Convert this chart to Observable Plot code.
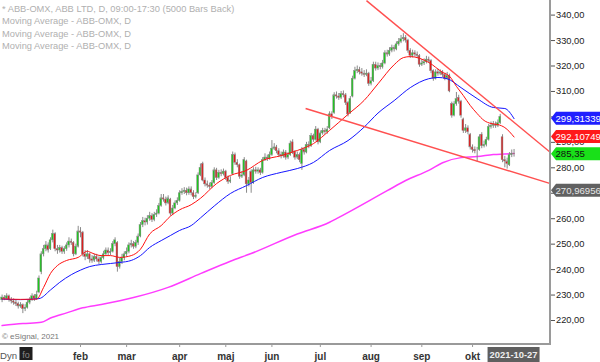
<!DOCTYPE html>
<html><head><meta charset="utf-8">
<script src="https://cdn.jsdelivr.net/npm/d3@7"></script>
<script src="https://cdn.jsdelivr.net/npm/@observablehq/plot@0.6"></script>
<style>html,body{margin:0;padding:0;background:#fff;overflow:hidden}</style>
</head><body><div id="chart"></div><script>
// ---- Data ----
const opens = [228,229,228.5,229.5,228,227.5,227,226.5,225.5,226,
224.5,225,227,228,229.5,228.5,231,239,246,248,
249.5,248,251.5,254,248,247.5,248.5,247,248,249.5,
251,250.5,246,249,255,254.5,246,245,246,244,
243.5,245,244,243,244.5,246,247.5,246.5,247,250,
250.5,241,243,244.5,246,247,249.5,250,249,250.5,
253,257.5,259,258.5,260,261,259.5,261.5,262,265,
268,267.5,266,267.5,262,264,266,267,270,270.5,
271,270,271.5,270,268.5,270,277,281.5,275,273.5,
273,272.5,274,279,276,278,277.5,278.5,276,274.5,
277.5,285,282,281,276.5,277,282.5,273.5,278.5,274,
279,278.5,279,278,283,284,283.5,285,287.5,288,
286.5,285,284.5,286,284,285,290,286,284,285,
281.5,287,286,289,288.5,292.5,291,295,290,293.5,
294.5,294,295.5,301,301.5,308.5,308,307.5,309,308.5,
305.5,301.5,308,315,318,318.5,317.5,317,316.5,317,
313,314,320.5,319,320,319.5,321,325,324.5,326,
327,326.5,328.5,329.5,330.5,331,330,326,324,325,
324.5,324,320.5,321,321.5,322.5,322,318,315,317.5,
317,317.5,316.5,315,316,305,300.5,305,307.5,306,
299,294.5,295.5,293,288,287,286.5,287,293,288.5,
289,291,296,296.5,297,296.5,297.5,292,283,282.5,
281,285,285.5];
const closes = [229,228.5,229.5,228,227.5,227,226.5,225.5,226,224.5,
225,227,228,229.5,228.5,230,236.5,246,248,249.5,
247.5,251.5,254,248,247.5,248.5,247,248,249.5,251,
250.5,246,249,255,254.5,246,245,246,244,243.5,
245,244,243,244.5,246,247.5,246.5,247,250,251.5,
241,243,244.5,246,247,249.5,250,249,250.5,253,
257.5,259,258.5,260,261,259.5,261.5,262,265,268,
267.5,266,268,262,264,266,267,270,270.5,271,
270,271.5,270,268.5,269,277,280,275,273.5,273,
272.5,274,279,276,278,277.5,278.5,276,274.5,275,
285,282,281,276.5,277,283,273.5,275,274,279,
278.5,279,278,283,284,283.5,285,287.5,288,286.5,
285,284.5,286,284,285,289.5,286,284,285,283,
287,286,289,288.5,292.5,291,295,290,293.5,294.5,
294,295,301,300,308.5,308,307.5,309,308.5,305.5,
301,307,315,318,318.5,317.5,317,316.5,317,313,
314,320.5,319,320,319.5,321,325,324.5,326,327,
326.5,328.5,329.5,330.5,331,330,326,324,325,324.5,
324,320.5,321,321.5,322.5,322,318,315,317.5,317,
317.5,316.5,315,316,310,300.5,305,307,306,300.5,
294.5,295.5,294,288,287,286.5,286.5,292,288.5,289,
291,296,296.5,297,296.5,297.5,300,283,282.5,281.5,
285,285.5,285.35];
const highs = [230,229.8,230.5,230,229,228.5,228,227.2,227,226.5,
226.2,227.8,229,230.5,230.2,231.5,237.5,247,249.5,251,
250.5,252.5,255.5,254.5,249.5,249.5,249.2,249,250.5,252.5,
252,251,250,257,256.5,255,247.5,247.5,246.5,245.5,
246,246,245,245.5,247.2,248.5,248.5,248.2,251,252.5,
251,244.5,246,247,248.5,250.5,251.5,251,251.5,254,
258.5,260.5,260.2,261.2,262.5,262,262.5,263.5,266,269.5,
269.5,268.5,269,268,265.2,267,268.2,271,271.8,272.2,
272,272.5,272.5,271,270.2,278,281.5,282.2,276,274.8,
274,275,280,279.8,279,279.2,279.5,279,276.8,276.5,
286.2,285.8,283.2,281.5,278.5,284,283,276.2,279.2,280,
280.2,280,279.8,284,285.5,285,286.2,290.7,289.5,288.8,
287.5,286.2,287,286.8,286,290.5,291,286.8,286.2,285.8,
288,288,290,290.2,293.5,293.2,296.2,295.5,294.5,295.5,
295.5,296.2,302,302,309.5,309.8,309.2,310,310.2,309.2,
306,308,316,319.5,320,319.5,319,318.2,318.5,317.5,
315.5,321.5,321.5,321.2,321,322.2,326,326.2,327.2,328.2,
328,329.5,330.8,332,332.7,332,330.5,326.8,326.2,326,
325.5,324.5,322.5,322.8,323.8,323.5,322.5,318.5,318.5,318.8,
318.5,318.2,317.2,317.5,316.8,305.8,306,309.6,308.5,306.5,
299.5,297,296.5,293.5,289,288.2,288,293,293.8,290.5,
292,297,298,298.2,298,298.8,301,293,284.5,283.8,
286,287,287.2];
const lows = [227,227.8,228,227.2,226.5,226,225.5,224.5,224.8,222.7,
223.5,224.5,226.2,227.5,227.5,228,230.5,238,245,247,
246.5,247.5,250.5,247,246,246.5,246,246,247.2,248.5,
249.5,245,245.5,248.5,252.5,245,243.5,244,242.5,242.5,
242.8,243,242,242.2,243.8,245.5,245.5,245.5,246.5,249,
239,240.2,242,243.5,245,246.2,248.5,248,248.2,249.5,
252.5,256.5,257.2,257.5,259,258.5,258.8,260.5,261.5,264.5,
266.5,265,265.5,261,261.2,263.5,265.2,266.5,269.2,269.5,
269,269.2,269,267.5,267.8,269.5,276.5,274.5,272.5,272,
271.5,271.8,273.5,275,275.5,276.5,276.8,275,273.5,273.8,
277,281,280,275.5,275.8,276.5,270,272.5,270,273.5,
277.5,277.5,277,277.5,282.5,282.5,283,284.5,286.8,285.5,
284,283.5,283.8,283,283.2,284.5,285.2,283,283.2,282,
279,285,285.5,287.5,288,290,290.5,289,289.5,292.8,
293,293.2,295,299,301,307,306.5,306.8,307.5,304.5,
300,301,307.5,314.5,317,316.5,316,315.5,315.8,312,
312.2,313.5,318,318.2,318.5,318.8,320.5,323.5,323.8,325.2,
325.5,326,327.8,328.8,329.5,329,325,323,323.2,323.5,
323,319.5,319.8,320.2,320.8,321,317,314,314.5,316,
316.2,315.5,314.2,314.5,309.5,299.5,300,304.2,305,299.5,
293.5,293.5,293,287,285.8,285.5,282.2,286.5,287.5,287.8,
288.2,290.5,295.2,295.5,295.5,295.8,297,282,280,279.5,
280.5,284,284.2];

// Moving averages (bar index, value)
const redMaIdx = [0,8,15,18,21,24,28,33,37,39,43,47,51,56,60,64,69,73,77,82,86,93,99,106,113,121,128,135,142,150,157,163,170,174,177,185,191,194,197,200,203,206,209,212,215,218,222];
const redMaVal = [228.5,228.3,228.4,233,238.5,241.6,243.6,244.8,247.2,246.5,245.5,245.5,244.8,245.5,248,254,257.3,261,263.5,265.5,268,273.8,277,279,282.9,284.8,286.8,289.5,294.7,301,306.5,313,320.5,323.3,323.7,321.4,317.5,316,312,308.4,304.5,301.3,298.6,297.4,297,295.8,292.107];
const blueMaIdx = [0,8,16,21,25,30,34,38,43,47,51,56,60,64,69,73,77,82,86,92,99,106,113,121,128,135,142,150,157,163,170,177,185,189,193,199,206,213,218,222];
const blueMaVal = [228.4,228.2,228.6,232,235,238,239.8,241.2,242,242.4,242.8,243.6,245.5,248.7,251.4,253.4,255.4,257.3,260.3,265,269.9,273,276.2,278.2,279.7,282.1,286.8,290.7,296,301.5,306.4,311.5,315,315.5,315,311.5,307.2,303.7,303.3,299.313];
const magMaIdx = [0,9,17,21,28,35,43,57,72,86,99,108,128,142,145,167,175,185,191,199,206,213,222];
const magMaVal = [218,218.8,219.3,221,223,225,226.3,229,233,238.4,243.3,246.3,254,258.6,260,271,275,279,282,284,284.4,285.2,285.6];

// Trend lines (bar index / price endpoints)
const trendX1 = [158, 131.6];
const trendY1 = [345.7, 303.3];
const trendX2 = [237.8, 237.8];
const trendY2 = [286.0, 273.8];

// Axis ticks & labels
const yTicks = [220,230,240,250,260,270,280,290,300,310,320,330,340];
const hiddenTicks = [300, 270];   // covered by the value tags in the reference
const monthIdx = [34,54,77,97,117,138,160,182,204];
const monthLabels = ["feb","mar","apr","maj","jun","jul","aug","sep","okt"];
const lastDate = "2021-10-27";
const lastIdx = 222;

// Right-side value tags
const tagValues = [299.31339, 292.10749, 285.35, 270.96956];
const tagTexts = ["299,31339","292,10749","285,35","270,96956"];
const tagFills = ["#1f1fff","#ff1a1a","#19e019","#616161"];
const tagInk = ["#ffffff","#ffffff","#111111","#e6e6e6"];

const legendLines = ["* ABB-OMX, ABB LTD, D, 09:00-17:30 (5000 Bars Back)","Moving Average - ABB-OMX, D","Moving Average - ABB-OMX, D","Moving Average - ABB-OMX, D"];

// ---- Build ----
const bars = closes.map((c,i)=>({i, open: opens[i], high: highs[i], low: lows[i], close: c}));
const toPts = (xs, ys) => xs.map((x,k)=>({x, y: ys[k]}));
const trends = trendX1.map((x,k)=>({x1:x, y1:trendY1[k], x2:trendX2[k], y2:trendY2[k]}));
const FONT = "'Liberation Sans', Arial, Helvetica, sans-serif";

const chart = Plot.plot({
  width: 600, height: 362,
  marginTop: 0, marginRight: 50, marginBottom: 18, marginLeft: 0,
  style: {fontFamily: FONT, background: "#fff", overflow: "visible"},
  x: {domain: [-0.69, 237.8], axis: null},
  y: {domain: [210.57, 345.74], axis: null},
  marks: [
    Plot.axisY(yTicks, {anchor: "right", tickSize: 4, tickPadding: 1.5, fontSize: 9.3, stroke: "#555", fill: "#222",
      tickFormat: d => hiddenTicks.includes(d) ? "" : d.toFixed(2).replace(".", ","), label: null}),
    Plot.axisX(monthIdx, {anchor: "bottom", tickSize: 3, tickPadding: 5, fontSize: 10, fontWeight: "bold",
      stroke: "#999", fill: "#333", tickFormat: d => monthLabels[monthIdx.indexOf(d)], label: null}),
    Plot.line(toPts(magMaIdx, magMaVal), {x: "x", y: "y", stroke: "#ff3cff", strokeWidth: 1.5, curve: "monotone-x"}),
    Plot.ruleX(bars, {x: "i", y1: "low", y2: "high", stroke: "#8a8a8a", strokeWidth: 1}),
    Plot.rect(bars, {x1: d => d.i - 0.38, x2: d => d.i + 0.38, y1: "open", y2: "close",
      fill: d => d.close > d.open ? "#1cc81c" : d.close < d.open ? "#e01818" : "#8a8a8a",
      stroke: "#8a8a8a", strokeWidth: 0.5}),
    Plot.line(toPts(blueMaIdx, blueMaVal), {x: "x", y: "y", stroke: "#1414ff", strokeWidth: 1, curve: "monotone-x"}),
    Plot.line(toPts(redMaIdx, redMaVal), {x: "x", y: "y", stroke: "#ff1010", strokeWidth: 1, curve: "monotone-x"}),
    Plot.link(trends, {x1: "x1", y1: "y1", x2: "x2", y2: "y2", stroke: "#ff5050", strokeWidth: 1.4})
  ]
});
document.getElementById("chart").appendChild(chart);

// ---- Decorations using the plot's scales ----
const svg = d3.select(chart);
const sx = chart.scale("x"), sy = chart.scale("y");
const right = sx.apply(237.8), bottom = sy.apply(210.57);

svg.append("line").attr("x1", right).attr("x2", right).attr("y1", 0).attr("y2", bottom + 1)
  .attr("stroke", "#9a9a9a").attr("stroke-width", 2);
svg.append("line").attr("x1", 0).attr("x2", right + 1).attr("y1", bottom).attr("y2", bottom)
  .attr("stroke", "#9a9a9a").attr("stroke-width", 2);

const addText = (x, y, t, o) => {
  const el = svg.append("text").attr("x", x).attr("y", y)
    .attr("font-family", FONT).attr("text-anchor", o.anchor || "start")
    .attr("font-size", o.size).attr("fill", o.fill).text(t);
  if (o.weight) el.attr("font-weight", o.weight);
  if (o.dy) el.attr("dy", o.dy);
  return el;
};

// value tags
tagValues.forEach((v, k) => {
  const y = sy.apply(v), x0 = right + 1;
  svg.append("path")
    .attr("d", `M${x0},${y} L${x0+5},${y-6.5} L600,${y-6.5} L600,${y+6.5} L${x0+5},${y+6.5} Z`)
    .attr("fill", tagFills[k]);
  addText(x0 + 4.5, y, tagTexts[k], {size: 9.6, fill: tagInk[k], dy: "0.36em"});
});

// last date tag
const dx = sx.apply(lastIdx);
svg.append("rect").attr("x", dx - 26).attr("y", bottom + 3).attr("width", 52).attr("height", 15).attr("fill", "#5f5f5f");
addText(dx, bottom + 10.5, lastDate, {anchor: "middle", size: 9.4, weight: "bold", fill: "#eeeeee", dy: "0.36em"});

// legend lines
legendLines.forEach((t, k) => addText(2, 12 + k * 12.3, t, {size: 9.3, fill: "#b0b0b0"}));

// copyright and Dyn
addText(2, 339, "© eSignal, 2021", {size: 8, fill: "#777"});
addText(0, 359, "Dyn", {size: 9.6, fill: "#555"});
svg.append("rect").attr("x", 19.5).attr("y", 347).attr("width", 13).attr("height", 13).attr("fill", "#1e1e1e");
addText(26, 357.5, "fo", {anchor: "middle", size: 9, fill: "#8a8a8a"});
</script></body></html>
